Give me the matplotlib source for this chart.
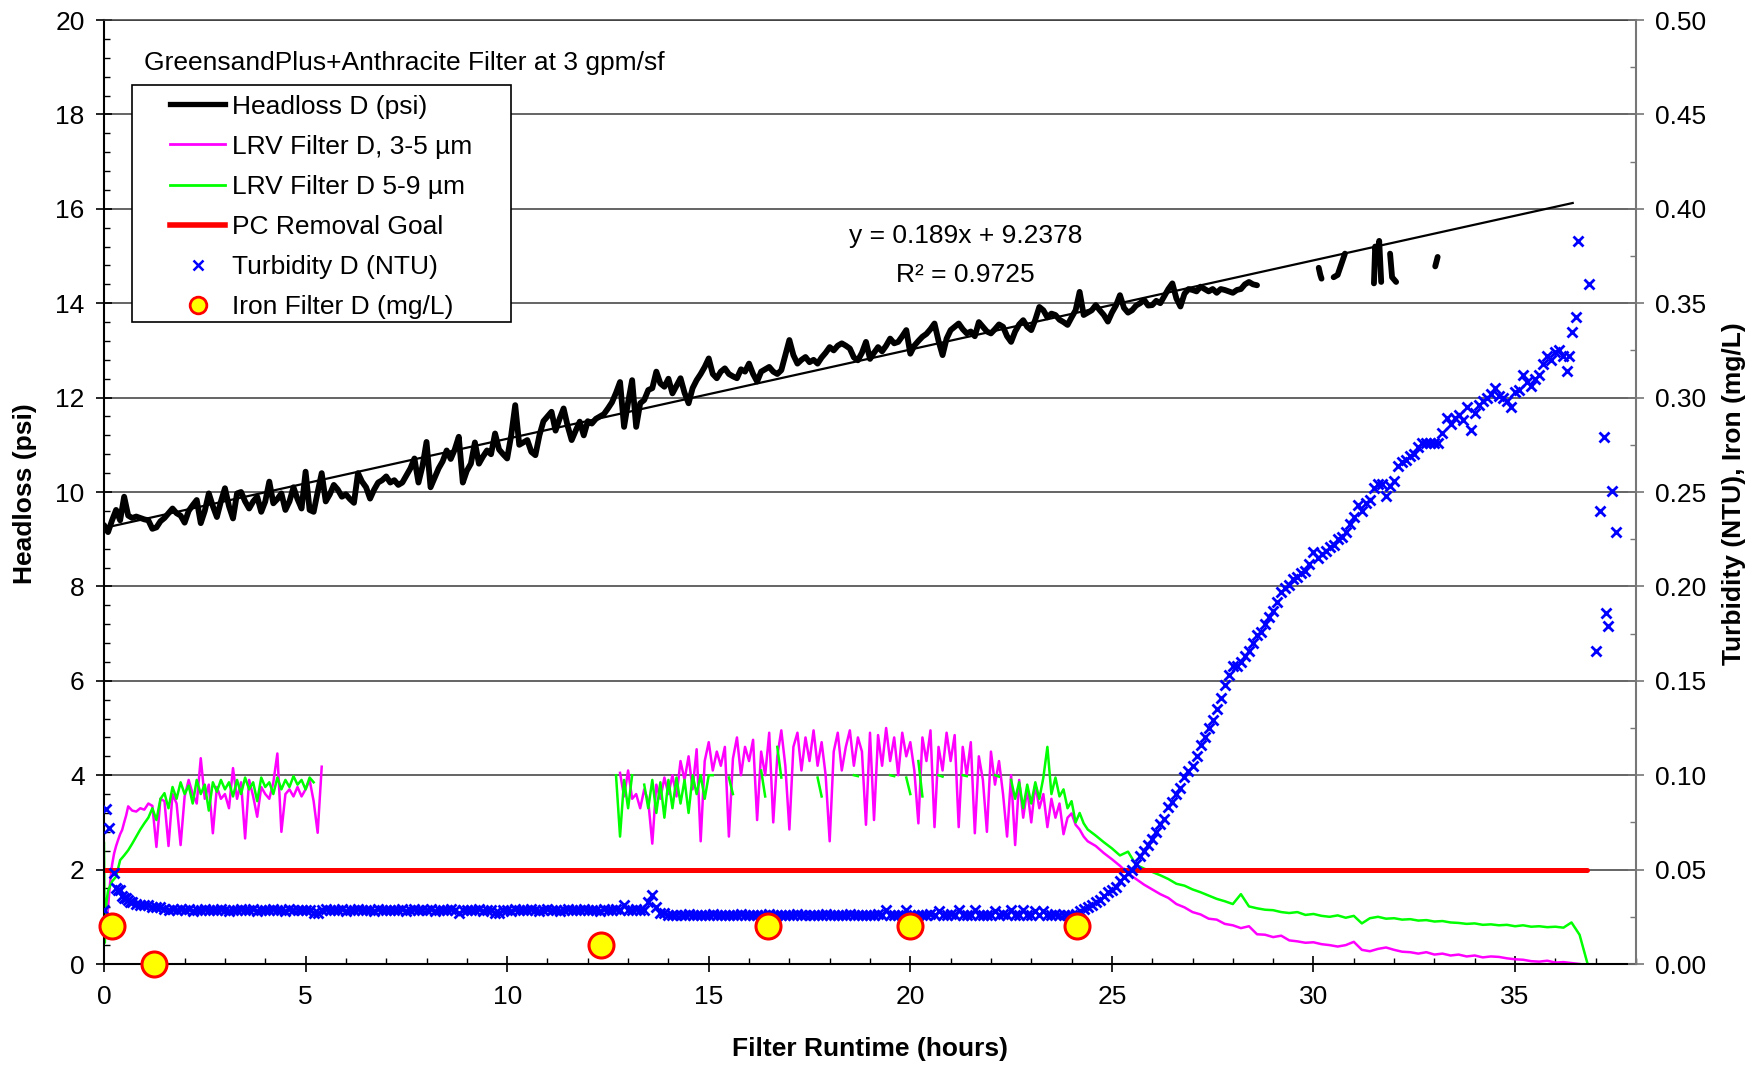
import numpy as np
import matplotlib
matplotlib.use("Agg")
import matplotlib.pyplot as plt
from matplotlib.lines import Line2D
from matplotlib.patches import Rectangle
from matplotlib.ticker import MultipleLocator, FormatStrFormatter

plt.rcParams['font.family'] = ['Liberation Sans', 'DejaVu Sans']

# ---------------- data ----------------
# headloss (psi), one value every 0.1 h from 0.0 h to 28.6 h
headloss = [
    9.30, 9.15, 9.40, 9.62, 9.40, 9.90, 9.50, 9.45, 9.48, 9.45,
    9.42, 9.40, 9.22, 9.25, 9.38, 9.45, 9.55, 9.65, 9.55, 9.50,
    9.35, 9.60, 9.72, 9.83, 9.34, 9.60, 9.97, 9.70, 9.47, 9.80,
    10.08, 9.70, 9.44, 9.97, 10.00, 9.80, 9.65, 9.80, 9.90, 9.58,
    9.80, 10.22, 9.76, 9.85, 9.97, 9.62, 9.80, 10.10, 9.85, 9.65,
    10.43, 9.62, 9.58, 10.00, 10.40, 9.80, 9.95, 10.15, 10.05, 9.90,
    9.95, 9.85, 9.77, 10.40, 10.22, 10.10, 9.86, 10.05, 10.20, 10.25,
    10.33, 10.20, 10.25, 10.15, 10.20, 10.35, 10.50, 10.71, 10.20, 10.55,
    11.06, 10.10, 10.30, 10.50, 10.65, 10.88, 10.70, 10.90, 11.17, 10.20,
    10.45, 10.60, 11.05, 10.60, 10.75, 10.88, 10.80, 11.24, 10.90, 10.80,
    10.71, 11.20, 11.84, 11.00, 11.05, 11.10, 10.85, 10.78, 11.20, 11.50,
    11.60, 11.70, 11.30, 11.55, 11.77, 11.40, 11.10, 11.30, 11.49, 11.20,
    11.50, 11.45, 11.55, 11.60, 11.65, 11.77, 11.90, 12.10, 12.33, 11.38,
    11.90, 12.37, 11.38, 11.88, 11.95, 12.16, 12.20, 12.55, 12.30, 12.23,
    12.40, 12.09, 12.25, 12.41, 12.10, 11.88, 12.20, 12.37, 12.50, 12.65,
    12.83, 12.50, 12.41, 12.55, 12.62, 12.50, 12.45, 12.41, 12.60, 12.55,
    12.72, 12.50, 12.34, 12.55, 12.60, 12.65, 12.55, 12.50, 12.58, 12.90,
    13.22, 12.90, 12.72, 12.80, 12.86, 12.75, 12.80, 12.72, 12.85, 12.95,
    13.07, 13.00, 13.10, 13.15, 13.10, 13.04, 12.85, 12.79, 12.95, 13.18,
    12.82, 12.95, 13.07, 12.98, 13.10, 13.25, 13.15, 13.18, 13.30, 13.43,
    12.93, 13.10, 13.20, 13.29, 13.35, 13.45, 13.57, 13.20, 12.90, 13.25,
    13.43, 13.50, 13.57, 13.45, 13.36, 13.40, 13.30, 13.60, 13.50, 13.40,
    13.36, 13.45, 13.55, 13.50, 13.30, 13.18, 13.40, 13.55, 13.64, 13.50,
    13.43, 13.65, 13.92, 13.85, 13.70, 13.78, 13.75, 13.65, 13.60, 13.54,
    13.70, 13.85, 14.24, 13.75, 13.80, 13.85, 13.96, 13.85, 13.75, 13.61,
    13.80, 13.95, 14.17, 13.90, 13.80, 13.85, 13.95, 14.00, 14.07, 13.95,
    13.96, 14.05, 14.00, 14.15, 14.30, 14.42, 14.10, 13.93, 14.20, 14.30,
    14.28, 14.25, 14.35, 14.30, 14.25, 14.30, 14.22, 14.30, 14.28, 14.25,
    14.22, 14.28, 14.30, 14.40, 14.45, 14.40, 14.38,
]
# broken pieces of the headloss record after 28.6 h (nan = gap)
nan = np.nan
hl_piece_t = [30.13, 30.17, 30.20, nan, 30.50, 30.60, 30.70, 30.78, nan,
              31.50, 31.53, 31.58, 31.63, 31.68, nan, 31.90, 31.95, 32.05, nan,
              33.02, 33.08]
hl_piece = [14.75, 14.60, 14.52, nan, 14.55, 14.60, 14.85, 15.05, nan,
            14.42, 15.20, 15.00, 15.32, 14.45, nan, 15.05, 14.55, 14.45, nan,
            14.78, 14.98]

# linear trendline of headloss
trend_slope = 0.189
trend_icept = 9.2378
trend_end = 36.43

# LRV 3-5 um (magenta)
lrv35_start_t = [0.05, 0.10, 0.15, 0.20, 0.25, 0.30, 0.35, 0.40, 0.45, 0.50, 0.55]
lrv35_start = [0.65, 1.20, 1.71, 2.10, 2.34, 2.50, 2.63, 2.75, 2.84, 3.00, 3.15]
lrv35_run1 = [  # every 0.1 h from 0.6 h
    3.34, 3.25, 3.23, 3.30,
    3.27, 3.40, 3.35, 2.48, 3.50, 3.45, 2.50, 3.60, 3.40, 2.52,
    3.55, 3.90, 3.60, 3.40, 4.36, 3.50, 3.80, 2.77, 3.75, 3.50,
    3.60, 3.30, 4.15, 3.50, 3.85, 2.66, 3.90, 3.55, 3.12, 3.75,
    3.60, 3.50, 3.85, 4.46, 2.80, 3.60, 3.70, 3.55, 3.75, 3.55,
    3.70, 3.90, 3.45, 2.78, 4.18,
]
lrv35_run2 = [  # every 0.1 h from 12.8 h
    4.05, 3.55,
    4.10, 3.50, 3.60, 3.30, 3.70, 3.45, 2.55, 3.80, 3.50, 3.95,
    3.60, 4.00, 3.55, 4.30, 3.90, 4.40, 3.70, 4.55, 2.60, 4.30,
    4.70, 4.10, 4.50, 4.20, 4.60, 2.70, 4.35, 4.80, 4.00, 4.60,
    4.30, 4.75, 3.05, 4.50, 4.00, 4.90, 3.00, 4.40, 4.95, 4.20,
    2.85, 4.60, 4.90, 4.10, 4.80, 4.30, 4.95, 4.20, 4.70, 4.00,
    2.60, 4.50, 4.90, 4.10, 4.60, 4.95, 4.20, 4.80, 4.50, 2.95,
    4.90, 3.05, 4.85, 4.20, 5.00, 4.30, 4.80, 4.00, 4.90, 4.40,
    4.70, 4.10, 2.98, 4.80, 4.30, 4.95, 2.90, 4.60, 4.10, 4.90,
    4.30, 4.85, 2.90, 4.60, 4.00, 4.70, 2.77, 4.40, 3.90, 2.80,
    4.50, 3.80, 4.30, 3.60, 2.70, 4.00, 2.52, 3.90, 3.10, 3.70,
    3.00, 3.80, 3.30, 3.60, 2.90, 3.50, 3.10, 3.40, 2.75, 3.10,
    3.19, 2.95, 2.85, 2.70, 2.60,
]
lrv35_tail = [  # every 0.2 h from 24.6 h
    2.50, 2.35, 2.22, 2.08, 1.92, 1.80, 1.68, 1.58, 1.48, 1.40,
    1.27, 1.20, 1.10, 1.05, 0.96, 0.94, 0.85, 0.82, 0.76, 0.80,
    0.63, 0.62, 0.57, 0.60, 0.50, 0.48, 0.45, 0.46, 0.42, 0.40,
    0.37, 0.40, 0.47, 0.30, 0.27, 0.32, 0.35, 0.30, 0.26, 0.25,
    0.22, 0.25, 0.20, 0.22, 0.18, 0.20, 0.16, 0.18, 0.14, 0.16,
    0.15, 0.12, 0.10, 0.09, 0.06, 0.05, 0.07, 0.03, 0.04, 0.02,
    0.00,
]

# LRV 5-9 um (green)
lrv59_start_t = [0.0, 0.02, 0.06]
lrv59_start = [2.56, 0.45, 1.30]
lrv59_run1 = [  # every 0.1 h from 0.1 h
    1.55, 1.75, 1.85, 2.20, 2.30, 2.41, 2.55, 2.70, 2.85,
    2.98, 3.10, 3.30, 3.05, 3.50, 3.62, 3.30, 3.75, 3.50, 3.85,
    3.60, 3.78, 3.40, 3.90, 3.60, 3.80, 3.25, 3.85, 3.65, 3.90,
    3.70, 3.85, 3.55, 3.90, 3.60, 3.95, 3.70, 3.85, 3.45, 3.95,
    3.75, 3.85, 3.60, 3.95, 3.70, 3.90, 3.75, 3.98, 3.80, 3.90,
    3.70, 3.95, 3.85,
]
lrv59_run2 = [  # every 0.1 h from 12.7 h (nan = no reading)
    4.00, 2.70, 3.90,
    3.30, 4.00, nan, nan, 3.80, 3.30, 3.90, 3.20, 3.85, 3.10,
    3.90, 3.30, 3.95, 3.40, 3.90, 3.20, 4.00, 3.60, 4.00, 3.50,
    4.00, 4.00, nan, nan, nan, 3.95, 3.60, nan, nan, nan,
    nan, nan, nan, 4.10, 3.55, nan, nan, 4.60, 3.95, nan,
    nan, nan, nan, nan, nan, nan, nan, 3.95, 3.55, nan,
    nan, nan, nan, nan, nan, nan, 4.00, 3.98, nan, nan,
    nan, nan, nan, nan, nan, 4.00, 3.98, nan, nan, 3.95,
    3.60, nan, 4.30, 3.55, nan, nan, nan, 4.00, 3.97, nan,
    nan, nan, nan, 4.00, 3.98, nan, nan, nan, nan, nan,
    nan, 4.00, 3.97, nan, nan, 3.90, 3.50, 3.85, 3.30, 3.80,
    3.40, 3.85, 3.50, 3.95, 4.60, 3.60, 3.95, 3.55, 3.70, 3.30,
    3.45, 3.00, 3.20, 2.98, 2.85,
]
lrv59_tail = [  # every 0.2 h from 24.6 h
    2.72, 2.58, 2.45, 2.30, 2.38, 2.10, 2.02, 1.95, 1.88, 1.80,
    1.70, 1.66, 1.58, 1.52, 1.45, 1.38, 1.33, 1.27, 1.48, 1.22,
    1.18, 1.15, 1.14, 1.10, 1.08, 1.10, 1.04, 1.06, 1.02, 1.00,
    1.03, 0.98, 1.02, 0.86, 0.97, 1.00, 0.96, 0.97, 0.94, 0.95,
    0.92, 0.93, 0.90, 0.91, 0.88, 0.87, 0.85, 0.86, 0.83, 0.84,
    0.82, 0.83, 0.80, 0.82, 0.79, 0.80, 0.78, 0.79, 0.77, 0.88,
    0.62, 0.00,
]

pc_goal = 2.0
pc_goal_end = 36.78

# turbidity (NTU)
turb_start_t = [0.0, 0.05, 0.12, 0.24, 0.30, 0.35, 0.40, 0.45, 0.50, 0.55,
                0.60, 0.65, 0.70, 0.80, 0.90, 1.00, 1.10, 1.20, 1.30, 1.40]
turb_start = [0.0285, 0.082, 0.072, 0.048, 0.040, 0.039, 0.039, 0.036, 0.035, 0.035,
              0.034, 0.033, 0.033, 0.032, 0.031, 0.031, 0.031, 0.030, 0.030, 0.030]
turb_band1 = [  # every 0.1 h from 1.5 h
    0.0290, 0.0287, 0.0291, 0.0286, 0.0289,
    0.0285, 0.0289, 0.0283, 0.0288, 0.0286, 0.0290, 0.0284, 0.0287, 0.0285, 0.0289,
    0.0286, 0.0283, 0.0288, 0.0285, 0.0290, 0.0284, 0.0287, 0.0289, 0.0283, 0.0286,
    0.0288, 0.0285, 0.0291, 0.0284, 0.0287, 0.0283, 0.0289, 0.0286, 0.0288, 0.0284,
    0.0287, 0.0285, 0.0270, 0.0272, 0.0286, 0.0289, 0.0284, 0.0288, 0.0285, 0.0290,
    0.0283, 0.0287, 0.0285, 0.0289, 0.0284, 0.0288, 0.0286, 0.0283, 0.0290, 0.0285,
    0.0288, 0.0284, 0.0287, 0.0285, 0.0289, 0.0283, 0.0286, 0.0290, 0.0284, 0.0287,
    0.0285, 0.0289, 0.0283, 0.0288, 0.0286, 0.0284, 0.0289, 0.0285, 0.0271, 0.0287,
    0.0284, 0.0288, 0.0285, 0.0290, 0.0283, 0.0287, 0.0286, 0.0272, 0.0270, 0.0288,
    0.0286, 0.0283, 0.0289, 0.0285, 0.0288, 0.0284, 0.0290, 0.0286, 0.0283, 0.0287,
    0.0289, 0.0285, 0.0288, 0.0283, 0.0286, 0.0290, 0.0284, 0.0287, 0.0285, 0.0289,
    0.0284, 0.0288, 0.0286, 0.0283, 0.0290, 0.0285, 0.0287, 0.0289, 0.0284, 0.0310,
    0.0287, 0.0285, 0.0289, 0.0284, 0.0288, 0.0330, 0.0365, 0.0300, 0.0272, 0.0270,
]
turb_band2 = [  # every 0.1 h from 14.0 h
    0.0262, 0.0258, 0.0261, 0.0257, 0.0260, 0.0263, 0.0259, 0.0262, 0.0258, 0.0261,
    0.0259, 0.0263, 0.0257, 0.0261, 0.0260, 0.0258, 0.0262, 0.0259, 0.0263, 0.0257,
    0.0261, 0.0258, 0.0262, 0.0260, 0.0257, 0.0263, 0.0259, 0.0261, 0.0258, 0.0262,
    0.0260, 0.0257, 0.0263, 0.0259, 0.0261, 0.0258, 0.0262, 0.0260, 0.0257, 0.0263,
    0.0259, 0.0262, 0.0258, 0.0261, 0.0260, 0.0263, 0.0257, 0.0261, 0.0259, 0.0262,
    0.0258, 0.0261, 0.0263, 0.0259, 0.0285, 0.0260, 0.0262, 0.0258, 0.0261, 0.0285,
    0.0262, 0.0259, 0.0261, 0.0257, 0.0260, 0.0263, 0.0258, 0.0283, 0.0261, 0.0259,
    0.0263, 0.0258, 0.0284, 0.0260, 0.0262, 0.0257, 0.0285, 0.0261, 0.0259, 0.0262,
    0.0258, 0.0283, 0.0260, 0.0263, 0.0259, 0.0285, 0.0261, 0.0258, 0.0284, 0.0262,
    0.0260, 0.0283, 0.0259, 0.0282, 0.0261, 0.0258, 0.0263, 0.0260, 0.0262, 0.0259,
    0.0262, 0.0266,
]
turb_rise = [  # every 0.1 h from 24.2 h
    0.028, 0.029, 0.030, 0.031, 0.033, 0.034, 0.036, 0.038,
    0.039, 0.041, 0.044, 0.046, 0.048, 0.050, 0.053, 0.057, 0.060, 0.063,
    0.066, 0.070, 0.074, 0.077, 0.083, 0.086, 0.090, 0.093, 0.099, 0.102,
    0.105, 0.110, 0.116, 0.120, 0.125, 0.129, 0.135, 0.141, 0.148, 0.153,
    0.158, 0.158, 0.160, 0.163, 0.166, 0.170, 0.174, 0.176, 0.180, 0.184,
    0.187, 0.192, 0.197, 0.199, 0.201, 0.204, 0.205, 0.207, 0.208, 0.212,
    0.218, 0.215, 0.217, 0.219, 0.221, 0.222, 0.225, 0.226, 0.229, 0.233,
    0.237, 0.243, 0.240, 0.244, 0.246, 0.252, 0.254, 0.254, 0.248, 0.253,
    0.256, 0.264, 0.266, 0.267, 0.269, 0.270, 0.274, 0.276, 0.276, 0.276,
    0.276, 0.276, 0.281, 0.289, 0.286, 0.289, 0.291, 0.288, 0.295, 0.283,
    0.292, 0.296, 0.298, 0.300, 0.302, 0.305, 0.301, 0.300, 0.298, 0.295,
    0.303, 0.304, 0.312, 0.308, 0.306, 0.310, 0.312, 0.318, 0.322, 0.320,
    0.324, 0.325, 0.322, 0.314,
]
turb_end_t = [36.33, 36.41, 36.50, 36.57, 36.83, 37.00, 37.10, 37.20, 37.25, 37.30, 37.41, 37.51]
turb_end = [0.322, 0.3345, 0.3425, 0.383, 0.360, 0.166, 0.240, 0.279, 0.186, 0.179, 0.2505, 0.229]

# iron (mg/L)
iron_t = [0.20, 1.24, 12.32, 16.47, 19.98, 24.13]
iron = [0.02, 0.0, 0.01, 0.02, 0.02, 0.02]


def on_grid(start, step, vals):
    return np.round(start + step * np.arange(len(vals)), 3)


# assemble series
hl_t = np.concatenate([on_grid(0.0, 0.1, headloss), [nan], hl_piece_t])
hl_v = np.concatenate([headloss, [nan], hl_piece])

m_t = np.concatenate([lrv35_start_t, on_grid(0.6, 0.1, lrv35_run1), [nan],
                      on_grid(12.8, 0.1, lrv35_run2), on_grid(24.6, 0.2, lrv35_tail)])
m_v = np.concatenate([lrv35_start, lrv35_run1, [nan], lrv35_run2, lrv35_tail])

g_t = np.concatenate([lrv59_start_t, on_grid(0.1, 0.1, lrv59_run1), [nan],
                      on_grid(12.7, 0.1, lrv59_run2), on_grid(24.6, 0.2, lrv59_tail)])
g_v = np.concatenate([lrv59_start, lrv59_run1, [nan], lrv59_run2, lrv59_tail])

tu_t = np.concatenate([turb_start_t, on_grid(1.5, 0.1, turb_band1), on_grid(14.0, 0.1, turb_band2),
                       on_grid(24.2, 0.1, turb_rise), turb_end_t])
tu_v = np.concatenate([turb_start, turb_band1, turb_band2, turb_rise, turb_end])

# ---------------- figure ----------------
W, H = 1760, 1065
fig = plt.figure(figsize=(W / 100, H / 100), dpi=100)
ax = fig.add_axes([104 / W, 101 / H, 1532 / W, 944 / H])
ax2 = ax.twinx()

FS = 19

ax.plot(m_t, m_v, color='#FF00FF', lw=1.8, zorder=2)
ax.plot(g_t, g_v, color='#00FF00', lw=1.8, zorder=2.1)
ax.plot([0, pc_goal_end], [pc_goal, pc_goal], color='#FF0000', lw=3.6, zorder=2.2,
        solid_capstyle='round')
ax.plot(hl_t, hl_v, color='black', lw=4.2, zorder=3, solid_joinstyle='round',
        solid_capstyle='round')
ax.plot([0, trend_end], [trend_icept, trend_icept + trend_slope * trend_end],
        color='black', lw=1.6, zorder=3.5)

ax2.plot(tu_t, tu_v, ls='none', marker='x', color='#0000FF', ms=7.5, mew=2.0, zorder=3)
ax2.plot(iron_t, iron, ls='none', marker='o', mfc='#FFFF00', mec='#FF0000',
         ms=18, mew=2.2, zorder=4, clip_on=False)

# axes limits and ticks
ax.set_xlim(0, 38)
ax.set_ylim(0, 20)
ax2.set_ylim(0, 0.5)
ax.set_xticks(np.arange(0, 36, 5))
ax.xaxis.set_minor_locator(MultipleLocator(1))
ax.set_yticks(np.arange(0, 21, 2))
ax.yaxis.set_minor_locator(MultipleLocator(0.4))
ax2.set_yticks(np.arange(0, 0.51, 0.05))
ax2.yaxis.set_minor_locator(MultipleLocator(0.025))
ax2.yaxis.set_major_formatter(FormatStrFormatter('%.2f'))

ax.tick_params(axis='both', which='major', direction='inout', length=12, width=1.2,
               labelsize=FS, pad=8)
ax.tick_params(axis='both', which='minor', direction='in', length=4, width=1)
ax.tick_params(axis='x', which='major', pad=9)
ax2.tick_params(axis='y', which='major', direction='inout', length=12, width=1.2,
                labelsize=FS, pad=8, color='#777777')
ax2.tick_params(axis='y', which='minor', direction='in', length=4, width=1, color='#777777')

ax.yaxis.grid(True, color='#3a3a3a', lw=1.1)
ax.set_axisbelow(True)

for s in ('left', 'bottom'):
    ax.spines[s].set_linewidth(1.5)
    ax.spines[s].set_color('black')
ax.spines['right'].set_visible(False)
ax.spines['top'].set_color('#3a3a3a')
ax.spines['top'].set_linewidth(1.1)
for s in ('left', 'bottom', 'top'):
    ax2.spines[s].set_visible(False)
ax2.spines['right'].set_color('#777777')
ax2.spines['right'].set_linewidth(1.5)

# texts
ax.text(0.99, 19.09, 'GreensandPlus+Anthracite Filter at 3 gpm/sf', fontsize=FS,
        ha='left', va='center')
ax.text(21.37, 15.42, 'y = 0.189x + 9.2378', fontsize=FS, ha='center', va='center')
ax.text(21.37, 14.6, 'R² = 0.9725', fontsize=FS, ha='center', va='center')

fig.text(24.7 / W, 1 - 494 / H, 'Headloss (psi)', rotation=90, ha='center', va='center',
         fontsize=FS, fontweight='bold')
fig.text(1734 / W, 1 - 494 / H, 'Turbidity (NTU), Iron (mg/L)', rotation=90, ha='center',
         va='center', fontsize=FS, fontweight='bold')
fig.text(870 / W, 1 - 1049 / H, 'Filter Runtime (hours)', ha='center', va='center',
         fontsize=FS, fontweight='bold')

# legend with a plain rectangular frame
box = Rectangle((28 / 1532, (964 - 322) / 944), 379 / 1532, 237 / 944,
                transform=ax2.transAxes, fc='white', ec='black', lw=1.2, zorder=8)
ax2.add_patch(box)
handles = [
    Line2D([], [], color='black', lw=3.8),
    Line2D([], [], color='#FF00FF', lw=2),
    Line2D([], [], color='#00FF00', lw=2),
    Line2D([], [], color='#FF0000', lw=4),
    Line2D([], [], ls='none', marker='x', color='#0000FF', ms=7, mew=1.8),
    Line2D([], [], ls='none', marker='o', mfc='#FFFF00', mec='#FF0000', ms=12, mew=2),
]
labels = ['Headloss D (psi)', 'LRV Filter D, 3-5 µm', 'LRV Filter D 5-9 µm',
          'PC Removal Goal', 'Turbidity D (NTU)', 'Iron Filter D (mg/L)']
leg = ax2.legend(handles, labels, loc='upper left', bbox_to_anchor=(66 / 1532, 0.921),
                 frameon=False, fontsize=FS, handlelength=2.1, handletextpad=0.25,
                 labelspacing=0.61, borderpad=0, borderaxespad=0)
leg.set_zorder(9)

fig.savefig('out.png', dpi=100)
